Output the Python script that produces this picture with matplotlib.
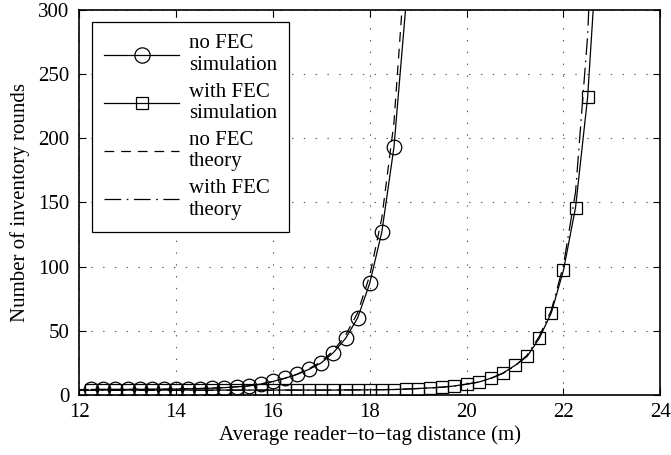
import numpy as np
import matplotlib
matplotlib.use('Agg')
import matplotlib.pyplot as plt
from matplotlib.lines import Line2D

plt.rcParams['font.family'] = ['Liberation Serif', 'DejaVu Serif']
plt.rcParams['lines.scale_dashes'] = False

# simulated points, no FEC (every 0.25 m)
dist_nofec = [12.25, 12.5, 12.75, 13.0, 13.25, 13.5, 13.75, 14.0, 14.25, 14.5,
              14.75, 15.0, 15.25, 15.5, 15.75, 16.0, 16.25, 16.5, 16.75, 17.0,
              17.25, 17.5, 17.75, 18.0, 18.25, 18.5]
rounds_nofec = [4.3, 4.3, 4.3, 4.3, 4.4, 4.4, 4.5, 4.6, 4.8, 5.0,
                5.3, 5.7, 6.3, 7.0, 8.5, 10.5, 13.0, 16.0, 20.0, 25.0,
                33.0, 44.0, 60.0, 87.0, 127.0, 193.0]
# the simulation curve runs on past the last marker
dist_nofec_tail = [18.75]
rounds_nofec_tail = [305.0]

# simulated points, with FEC
dist_fec = [12.25, 12.5, 12.75, 13.0, 13.25, 13.5, 13.75, 14.0, 14.25, 14.5,
            14.75, 15.0, 15.25, 15.5, 15.75, 16.0, 16.25, 16.5, 16.75, 17.0,
            17.25, 17.5, 17.75, 18.0, 18.25, 18.5, 18.75, 19.0, 19.25, 19.5,
            19.75, 20.0, 20.25, 20.5, 20.75, 21.0, 21.25, 21.5, 21.75, 22.0,
            22.25, 22.5]
rounds_fec = [3.8, 3.8, 3.8, 3.8, 3.8, 3.8, 3.8, 3.8, 3.8, 3.8,
              3.8, 3.8, 3.8, 3.8, 3.8, 3.8, 3.8, 3.8, 3.8, 3.8,
              3.8, 3.9, 3.9, 4.0, 4.1, 4.2, 4.6, 5.0, 5.5, 6.0,
              7.0, 8.5, 10.0, 13.0, 17.0, 23.0, 30.0, 44.0, 64.0, 97.0,
              146.0, 232.0]
dist_fec_tail = [22.75]
rounds_fec_tail = [380.0]

# analytical curves
dist_th_nofec = [12.0, 12.25, 12.5, 12.75, 13.0, 13.25, 13.5, 13.75, 14.0, 14.25,
                 14.5, 14.75, 15.0, 15.25, 15.5, 15.75, 16.0, 16.25, 16.5, 16.75,
                 17.0, 17.25, 17.5, 17.75, 18.0, 18.25, 18.5, 18.75]
rounds_th_nofec = [4.2, 4.2, 4.3, 4.3, 4.3, 4.4, 4.4, 4.5, 4.6, 4.8,
                   5.0, 5.3, 5.8, 6.4, 7.2, 8.5, 10.5, 13.0, 16.2, 20.5,
                   26.0, 34.5, 46.5, 64.0, 93.0, 138.0, 212.0, 345.0]

dist_th_fec = [12.0, 12.5, 13.0, 13.5, 14.0, 14.5, 15.0, 15.5, 16.0, 16.5,
               17.0, 17.5, 18.0, 18.25, 18.5, 18.75, 19.0, 19.25, 19.5, 19.75,
               20.0, 20.25, 20.5, 20.75, 21.0, 21.25, 21.5, 21.75, 22.0, 22.25,
               22.5, 22.75]
rounds_th_fec = [3.6, 3.6, 3.6, 3.6, 3.6, 3.6, 3.7, 3.7, 3.7, 3.8,
                 3.8, 3.9, 4.0, 4.1, 4.3, 4.6, 5.0, 5.5, 6.1, 7.0,
                 8.3, 10.0, 12.8, 16.8, 22.5, 31.0, 45.5, 66.0, 101.0, 158.0,
                 280.0, 500.0]

fig = plt.figure(figsize=(6.71, 4.55), dpi=100)
ax = fig.add_axes([0.118, 0.132, 0.866, 0.846])

lw = 0.9
k = 'black'
dash = (0, (7, 5))
dashdot = (0, (12, 4, 1.2, 4))
fs = 15

ax.plot(dist_nofec + dist_nofec_tail, rounds_nofec + rounds_nofec_tail, '-', color=k, lw=lw)
ax.plot(dist_nofec, rounds_nofec, 'o', ms=10.5, mfc='none', mec=k, mew=0.9)
ax.plot(dist_fec + dist_fec_tail, rounds_fec + rounds_fec_tail, '-', color=k, lw=lw)
ax.plot(dist_fec, rounds_fec, 's', ms=9, mfc='none', mec=k, mew=0.9)
ax.plot(dist_th_nofec, rounds_th_nofec, color=k, lw=lw, linestyle=dash)
ax.plot(dist_th_fec, rounds_th_fec, color=k, lw=lw, linestyle=dashdot)

ax.set_xlim(12, 24)
ax.set_ylim(0, 300)
ax.set_xticks([12, 14, 16, 18, 20, 22, 24])
ax.set_yticks([0, 50, 100, 150, 200, 250, 300])
ax.tick_params(direction='in', length=5, width=0.8, top=True, right=True,
               labelsize=fs)
ax.tick_params(axis='y', pad=7)
ax.tick_params(axis='x', pad=6)
ax.grid(True, color='0.35', linestyle=(0, (1, 7.5)), linewidth=0.8)
for s in ax.spines.values():
    s.set_linewidth(1.2)

ax.set_xlabel('Average reader\u2212to\u2212tag distance (m)', fontsize=fs, labelpad=2)
ax.set_ylabel('Number of inventory rounds', fontsize=fs, labelpad=6)

handles = [
    Line2D([], [], color=k, lw=lw, marker='o', ms=11, mfc='none', mec=k, mew=0.9),
    Line2D([], [], color=k, lw=lw, marker='s', ms=9, mfc='none', mec=k, mew=0.9),
    Line2D([], [], color=k, lw=lw, linestyle=dash),
    Line2D([], [], color=k, lw=lw, linestyle=dashdot),
]
labels = ['no FEC\nsimulation', 'with FEC\nsimulation', 'no FEC\ntheory', 'with FEC\ntheory']
leg = ax.legend(handles, labels, loc='upper left', bbox_to_anchor=(0.022, 0.969),
                borderaxespad=0, fontsize=fs, handlelength=3.6, handletextpad=0.45,
                labelspacing=0.35, borderpad=0.6, fancybox=False, framealpha=1,
                edgecolor=k)
leg.get_frame().set_linewidth(0.9)

fig.savefig('out.png', dpi=100)
